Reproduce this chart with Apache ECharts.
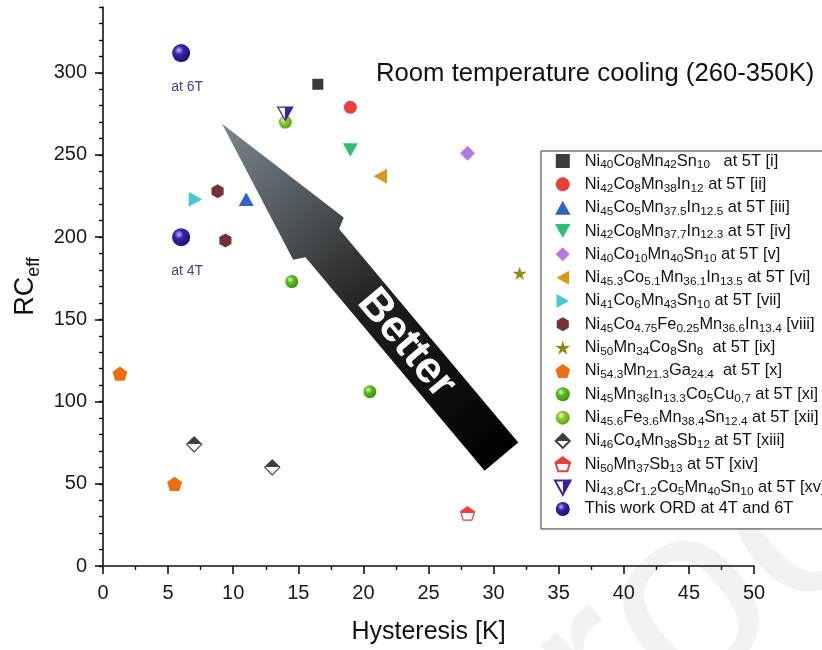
<!DOCTYPE html>
<html>
<head>
<meta charset="utf-8">
<script src="https://cdn.jsdelivr.net/npm/echarts@6/dist/echarts.min.js"></script>
<style>
html,body{margin:0;padding:0;background:#fff;}
#c{width:822px;height:650px;}
</style>
</head>
<body>
<div id="c"></div>
<script>
// ---------------- data ----------------
const xTicks = [0, 5, 10, 15, 20, 25, 30, 35, 40, 45, 50];
const yTicks = [0, 50, 100, 150, 200, 250, 300];
const yMinorTicks = [0,10,20,30,40,50,60,70,80,90,100,110,120,130,140,150,160,170,180,190,200,210,220,230,240,250,260,270,280,290,300,310,320,330,340];

const seriesNames = [
  'Ni40Co8Mn42Sn10   at 5T [i]',
  'Ni42Co8Mn38In12 at 5T [ii]',
  'Ni45Co5Mn37.5In12.5 at 5T [iii]',
  'Ni42Co8Mn37.7In12.3 at 5T [iv]',
  'Ni40Co10Mn40Sn10 at 5T [v]',
  'Ni45.3Co5.1Mn36.1In13.5 at 5T [vi]',
  'Ni41Co6Mn43Sn10 at 5T [vii]',
  'Ni45Co4.75Fe0.25Mn36.6In13.4 [viii]',
  'Ni50Mn34Co8Sn8  at 5T [ix]',
  'Ni54.3Mn21.3Ga24.4  at 5T [x]',
  'Ni45Mn36In13.3Co5Cu0,7 at 5T [xi]',
  'Ni45.6Fe3.6Mn38.4Sn12.4 at 5T [xii]',
  'Ni46Co4Mn38Sb12 at 5T [xiii]',
  'Ni50Mn37Sb13 at 5T [xiv]',
  'Ni43.8Cr1.2Co5Mn40Sn10 at 5T [xv]',
  'This work ORD at 4T and 6T'
];

const d_i    = [[16.5, 293]];
const d_ii   = [[19.0, 279]];
const d_iii  = [[11.0, 223]];
const d_iv   = [[19.0, 253]];
const d_v    = [[28.0, 251]];
const d_vi   = [[21.3, 237]];
const d_vii  = [[7.1, 223]];
const d_viii = [[8.8, 228], [9.4, 198]];
const d_ix   = [[32.0, 178]];
const d_x    = [[1.3, 117], [5.5, 50]];
const d_xi   = [[14.5, 173], [20.5, 106]];
const d_xii  = [[14.0, 270]];
const d_xiii = [[7.0, 74], [13.0, 60]];
const d_xiv  = [[28.0, 32]];
const d_xv   = [[14.0, 275]];
const d_this = [[6.0, 200], [6.0, 312]];
const thisLabels = ['at 4T', 'at 6T'];

const titleText = 'Room temperature cooling (260-350K)';
const arrowText = 'Better';
const watermarkText = 'Proof';
// arrow annotation anchored in data coordinates: [tip, tail]
const arrowTip = [9.14, 269];
const arrowTail = [30.6, 66.5];

// ---------------- styles ----------------
const FONT = "'Liberation Sans', Arial, Helvetica, sans-serif";

function sphere(base, light, dark) {
  return {
    type: 'radial', x: 0.38, y: 0.35, r: 0.7,
    colorStops: [
      {offset: 0, color: light},
      {offset: 0.35, color: base},
      {offset: 1, color: dark}
    ]
  };
}
function vsplit(top, bottom, at) {
  return {type: 'linear', x: 0, y: 0, x2: 0, y2: 1, colorStops: [
    {offset: 0, color: top}, {offset: at, color: top},
    {offset: at, color: bottom}, {offset: 1, color: bottom}]};
}
function hsplit(left, right, at) {
  return {type: 'linear', x: 0, y: 0, x2: 1, y2: 0, colorStops: [
    {offset: 0, color: left}, {offset: at, color: left},
    {offset: at, color: right}, {offset: 1, color: right}]};
}

const P_SQ = 'path://M-1,-1 L1,-1 L1,1 L-1,1 Z';
const P_UP = 'path://M0,-0.95 L1,0.85 L-1,0.85 Z';
const P_LEFT = 'path://M-0.95,0 L0.85,-1 L0.85,1 Z';
const P_RIGHT = 'path://M0.95,0 L-0.85,-1 L-0.85,1 Z';
const P_HEX = 'path://M0,-1 L0.866,-0.5 L0.866,0.5 L0,1 L-0.866,0.5 L-0.866,-0.5 Z';
const P_PENT = 'path://M0,-1 L0.951,-0.309 L0.588,0.809 L-0.588,0.809 L-0.951,-0.309 Z';
const P_STAR = 'path://M0,-1 L0.2245,-0.309 L0.951,-0.309 L0.363,0.118 L0.588,0.809 L0,0.382 L-0.588,0.809 L-0.363,0.118 L-0.951,-0.309 L-0.2245,-0.309 Z';
const P_DOWN = 'path://M-1,-0.85 L1,-0.85 L0,0.95 Z';
const P_DIAM = 'path://M0,-1 L1,0 L0,1 L-1,0 Z';

const styles = [
  {symbol: P_SQ, size: 11, color: '#3b3b3b'},
  {symbol: 'circle', size: 13, color: '#e8413a'},
  {symbol: P_UP, size: 15, color: '#2f63c2'},
  {symbol: P_DOWN, size: 15, color: '#2fbf73'},
  {symbol: P_DIAM, size: 15, color: '#b17ae0'},
  {symbol: P_LEFT, size: 15, color: '#d99a12'},
  {symbol: P_RIGHT, size: 15, color: '#45c9d3'},
  {symbol: P_HEX, size: 14, color: '#743236'},
  {symbol: P_STAR, size: 14, color: '#8f8a10'},
  {symbol: P_PENT, size: 15, color: '#ee6d10'},
  {symbol: 'circle', size: 13, color: sphere('#5cbf1c', '#e3f8cc', '#3e8a0c')},
  {symbol: 'circle', size: 13, color: sphere('#8ccf2a', '#eefad8', '#5f9a12')},
  {symbol: P_DIAM, size: 15, color: vsplit('#3f3f3f', '#ffffff', 0.5), border: '#3f3f3f'},
  {symbol: P_PENT, size: 14, color: vsplit('#e8413a', '#ffffff', 0.5), border: '#e8413a'},
  {symbol: P_DOWN, size: 15, color: hsplit('#ffffff', '#3d1fa0', 0.5), border: '#3d1fa0'},
  {symbol: 'circle', size: 18, color: sphere('#3b22b0', '#c4b8f5', '#1a0c68')}
];
const dataSets = [d_i, d_ii, d_iii, d_iv, d_v, d_vi, d_vii, d_viii, d_ix, d_x, d_xi, d_xii, d_xiii, d_xiv, d_xv, d_this];

const series = dataSets.map(function (d, i) {
  const st = styles[i];
  const s = {
    type: 'scatter',
    name: seriesNames[i],
    data: d,
    symbol: st.symbol,
    symbolSize: st.size,
    symbolKeepAspect: true,
    itemStyle: {color: st.color, opacity: 1},
    emphasis: {disabled: true},
    z: 5
  };
  if (st.border) { s.itemStyle.borderColor = st.border; s.itemStyle.borderWidth = 1.2; }
  if (i === dataSets.length - 1) {
    s.label = {
      show: true, position: 'bottom', distance: 18, offset: [6, 0],
      formatter: function (p) { return thisLabels[p.dataIndex]; },
      color: '#4a3a8e', fontSize: 14, fontFamily: FONT
    };
  }
  return s;
});

function legendFmt(name) {
  const sp = name.indexOf(' ');
  const f = sp < 0 ? name : name.slice(0, sp);
  const rest = sp < 0 ? '' : name.slice(sp);
  if (!/\d/.test(f)) return '{n|' + name + '}';
  const parts = f.replace(/([A-Z][a-z]?)(\d+(?:[.,]\d+)?)/g, '{n|$1}{s|$2}');
  return parts + '{n|' + rest + '}';
}

const chart = echarts.init(document.getElementById('c'), null, {renderer: 'canvas'});

const option = {
  animation: false,
  backgroundColor: '#ffffff',
  textStyle: {fontFamily: FONT},
  grid: {left: 103, right: 68, top: 7, bottom: 83, containLabel: false},
  xAxis: {
    type: 'value', min: 0, max: 50, interval: 5,
    name: 'Hysteresis [K]', nameLocation: 'middle', nameGap: 54,
    nameTextStyle: {fontSize: 25, color: '#111', fontFamily: FONT},
    axisLine: {show: true, onZero: false, lineStyle: {color: '#111', width: 1.6}},
    axisTick: {show: true, inside: false, length: 8, lineStyle: {color: '#111', width: 1.6}},
    minorTick: {show: true, splitNumber: 2, length: 4, lineStyle: {color: '#111', width: 1.4}},
    axisLabel: {fontSize: 20, color: '#1a1a1a', margin: 17, fontFamily: FONT,
      customValues: xTicks},
    splitLine: {show: false}
  },
  yAxis: [{
    type: 'value', min: 0, max: 340, interval: 50,
    name: 'RC{sub|eff}', nameLocation: 'middle', nameGap: 60, nameRotate: 90,
    nameTextStyle: {fontSize: 27, lineHeight: 32, color: '#111', fontFamily: FONT,
      rich: {sub: {fontSize: 18, lineHeight: 14, verticalAlign: 'top', padding: [15, 0, 0, 0], fontFamily: FONT, color: '#111'}}},
    axisLine: {show: true, onZero: false, lineStyle: {color: '#111', width: 1.6}},
    axisTick: {show: true, inside: false, length: 8, customValues: yTicks, lineStyle: {color: '#111', width: 1.6}},
    axisLabel: {fontSize: 20, color: '#1a1a1a', margin: 16, fontFamily: FONT, customValues: yTicks},
    splitLine: {show: false}
  }, {
    type: 'value', min: 0, max: 340, position: 'left',
    axisLine: {show: false},
    axisTick: {show: true, inside: false, length: 4, customValues: yMinorTicks, lineStyle: {color: '#111', width: 1.4}},
    axisLabel: {show: false},
    splitLine: {show: false}
  }],
  legend: {
    orient: 'vertical', left: 541, top: 151,
    padding: [0, 4, 12, 13],
    itemWidth: 34, itemHeight: 14, itemGap: 3.33,
    borderColor: '#333', borderWidth: 1, backgroundColor: '#fff',
    selectedMode: false,
    data: seriesNames,
    formatter: legendFmt,
    textStyle: {
      color: '#111', fontFamily: FONT,
      rich: {
        n: {fontSize: 16.4, lineHeight: 20, fontFamily: FONT, color: '#111'},
        s: {fontSize: 11.8, lineHeight: 12, verticalAlign: 'top', padding: [8, 0, 0, 0], fontFamily: FONT, color: '#111'}
      }
    }
  },
  series: series
};
chart.setOption(option);

// annotations placed from data coordinates
const tipPx = chart.convertToPixel({gridIndex: 0}, arrowTip);
const tailPx = chart.convertToPixel({gridIndex: 0}, arrowTail);
const dx = tailPx[0] - tipPx[0], dy = tailPx[1] - tipPx[1];
const L = Math.sqrt(dx * dx + dy * dy);
const ang = Math.atan2(dy, dx);
const ux = dx / L, uy = dy / L;
const headLen = 150, wing = 33, shaft = 22, notch = 156;
const arrowPts = [[0, 0], [headLen, -wing], [notch, -shaft], [L, -shaft], [L, shaft], [notch, shaft], [headLen, wing]];

chart.setOption({
  graphic: [
    {
      type: 'text', x: 673, y: 622, rotation: 0.68, silent: true, z: -10,
      style: {text: watermarkText, fill: '#f2f2f2', font: '255px ' + FONT, align: 'center', verticalAlign: 'middle'}
    },
    {
      type: 'text', x: 376, y: 74, silent: true, z: 10,
      style: {text: titleText, fill: '#111', font: '25.7px ' + FONT, align: 'left', verticalAlign: 'middle'}
    },
    {
      type: 'polygon', x: tipPx[0], y: tipPx[1], rotation: -ang, silent: true, z: 1,
      shape: {points: arrowPts},
      style: {fill: {type: 'linear', x: 0, y: 0, x2: 1, y2: 0, colorStops: [
        {offset: 0, color: '#7a878d'}, {offset: 0.3, color: '#4a5054'},
        {offset: 0.55, color: '#1e1e1e'}, {offset: 1, color: '#000000'}]}}
    },
    {
      type: 'text', x: tipPx[0] + ux * 287, y: tipPx[1] + uy * 287, rotation: -ang, silent: true, z: 2,
      style: {text: arrowText, fill: '#ffffff', font: 'bold 44px ' + FONT, align: 'center', verticalAlign: 'middle'}
    }
  ]
});
</script>
</body>
</html>
